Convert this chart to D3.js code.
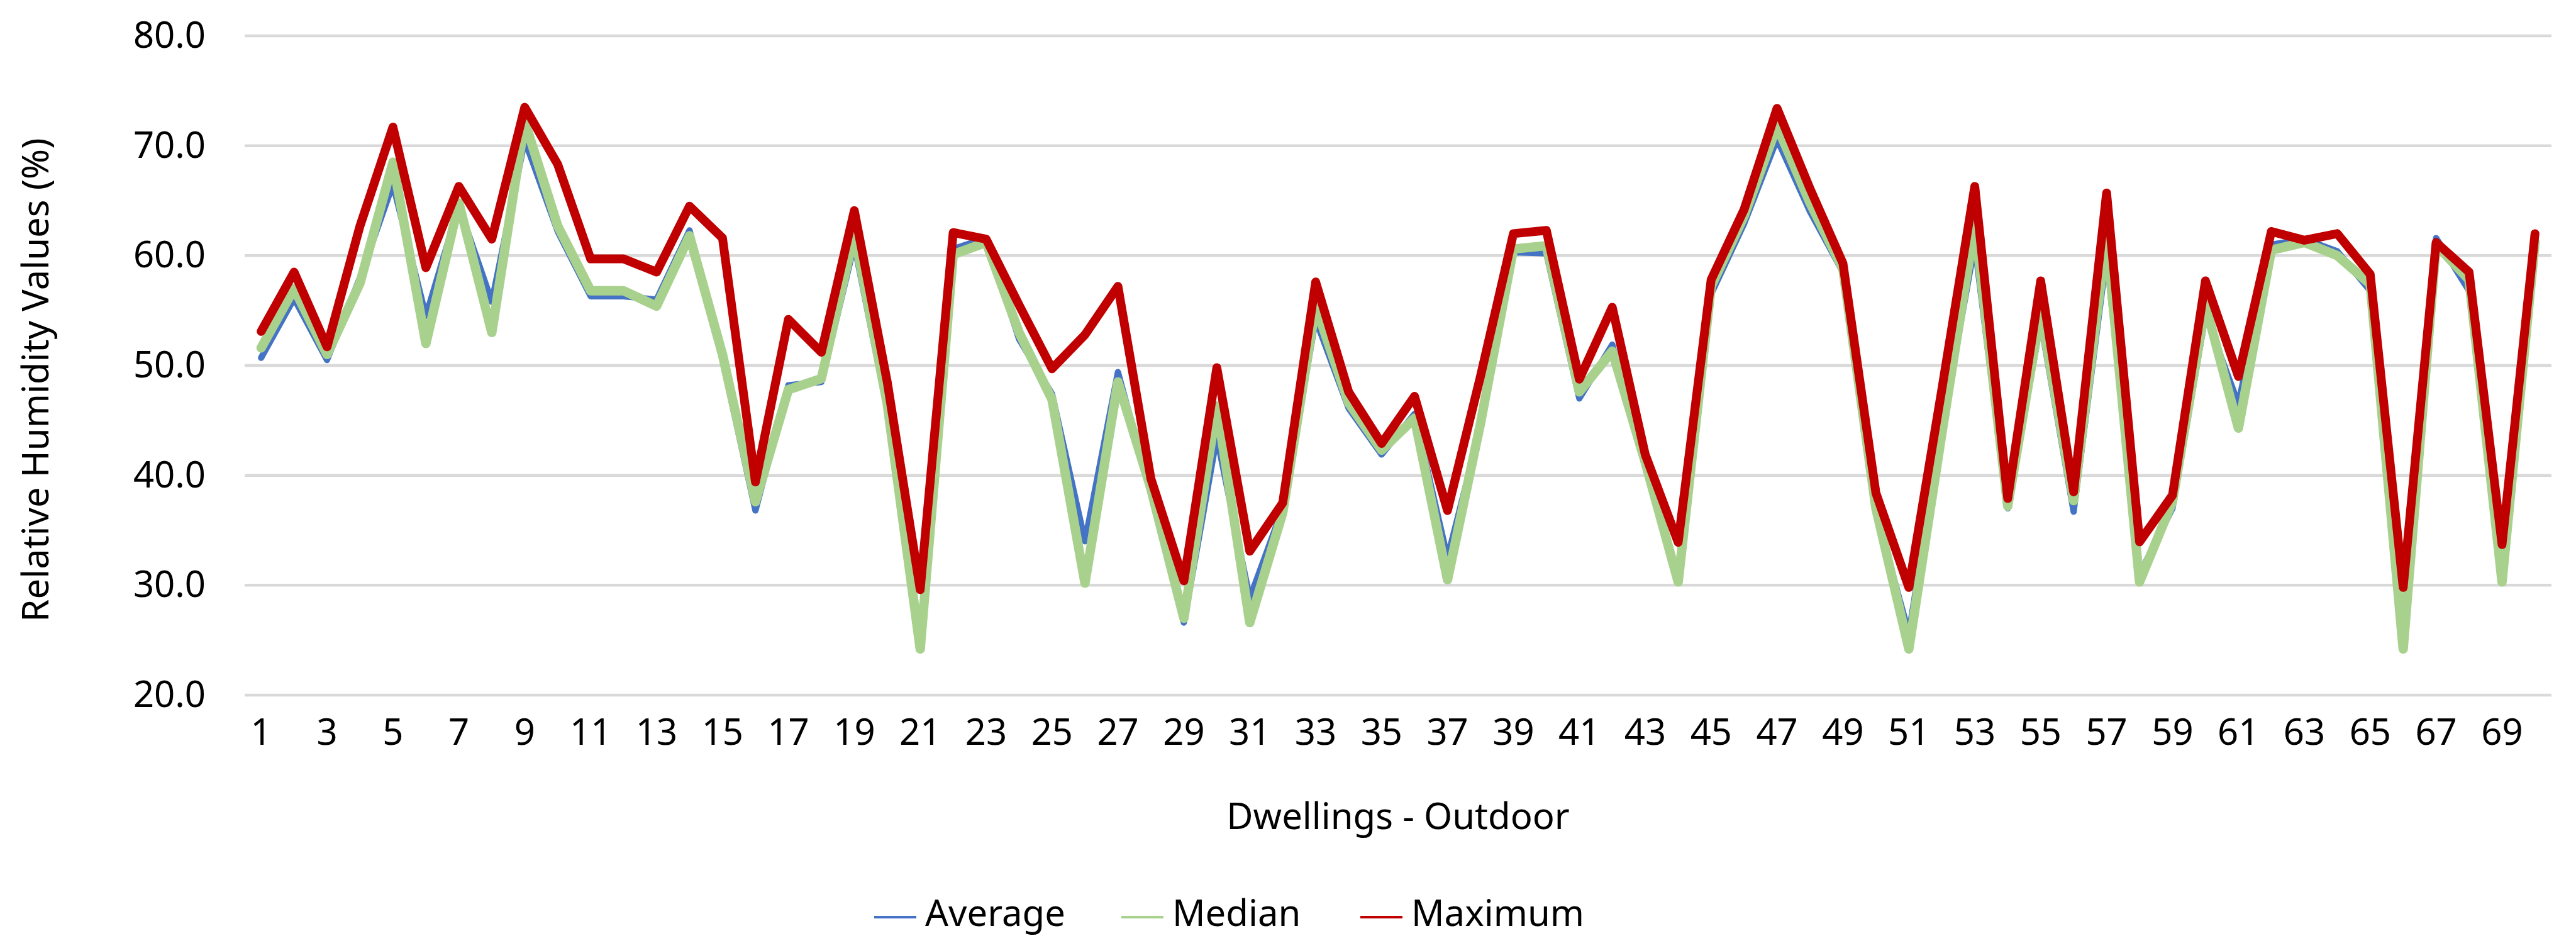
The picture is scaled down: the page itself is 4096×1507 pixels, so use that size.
<!DOCTYPE html>
<html>
<head>
<meta charset="utf-8">
<script src="https://cdn.jsdelivr.net/npm/d3@7"></script>
<style>
  html, body { margin: 0; padding: 0; background: #fff; }
  svg { display: block; }
  text { font-family: "Noto Sans", "Open Sans", sans-serif; fill: #000; }
</style>
</head>
<body>
<svg id="chart" width="4096" height="1507"></svg>
<script>
const dwellings = d3.range(1, 71);
const xTickLabels = d3.range(1, 71, 2);
const yTickLabels = [20, 30, 40, 50, 60, 70, 80];

const averageValues = [
  50.7,56.1,50.5,58.0,66.5,54.5,64.5,55.8,70.5,62.2,
  56.3,56.3,56.0,62.3,50.5,36.8,48.2,48.5,61.0,46.0,
  24.5,60.6,61.6,52.4,47.4,34.0,49.4,38.3,26.6,43.5,
  28.8,37.0,54.2,46.1,41.9,45.6,32.5,44.3,60.3,60.2,
  47.0,51.9,40.8,30.5,56.5,62.9,70.6,64.0,58.5,36.6,
  25.6,44.3,61.0,37.0,54.0,36.7,60.0,31.0,37.0,54.6,
  46.5,61.0,61.5,60.4,56.8,24.4,61.6,56.8,30.3,60.9
];
const medianValues = [
  51.6,57.0,51.0,57.5,68.5,52.0,64.8,53.0,72.2,62.7,
  56.8,56.8,55.4,61.8,51.0,37.6,47.8,48.8,62.0,46.5,
  24.2,60.1,61.2,53.0,46.9,30.2,48.5,38.8,27.0,46.3,
  26.6,36.6,55.4,46.6,42.3,45.2,30.5,44.7,60.6,60.9,
  47.6,51.3,41.2,30.3,57.2,63.6,71.8,64.8,58.8,37.0,
  24.2,43.8,62.8,37.2,54.9,37.7,61.7,30.3,37.6,55.5,
  44.3,60.5,61.2,60.0,57.4,24.2,61.0,57.8,30.3,61.2
];
const maximumValues = [
  53.1,58.5,51.7,62.7,71.7,58.9,66.3,61.5,73.5,68.3,
  59.7,59.7,58.5,64.5,61.6,39.4,54.2,51.2,64.1,48.5,
  29.6,62.1,61.5,55.5,49.7,52.8,57.2,39.7,30.4,49.8,
  33.1,37.5,57.6,47.6,42.9,47.2,36.8,49.0,62.0,62.3,
  48.75,55.3,41.9,33.9,57.8,64.2,73.4,66.1,59.3,38.4,
  29.8,47.8,66.3,37.9,57.7,38.5,65.7,33.95,38.2,57.7,
  49.0,62.2,61.4,62.0,58.3,29.8,61.2,58.5,33.7,62.0
];
const seriesNames = ["Average", "Median", "Maximum"];
const seriesColors = ["#4472C4", "#A9D18E", "#C00000"];
const seriesWidths = [10, 15, 14];

const svg = d3.select("#chart");
svg.append("rect").attr("width", 4096).attr("height", 1507).attr("fill", "#fff");

const plot = { left: 389, right: 4057, top: 57, bottom: 1105 };
const x = d3.scaleBand().domain(dwellings).range([plot.left, plot.right]);
const y = d3.scaleLinear().domain([20, 80]).range([plot.bottom, plot.top]);
const cx = d => x(d) + x.bandwidth() / 2;
const fontSize = "58px";

// gridlines
svg.append("g")
  .selectAll("line").data(yTickLabels).join("line")
  .attr("x1", plot.left).attr("x2", plot.right)
  .attr("y1", d => y(d)).attr("y2", d => y(d))
  .attr("stroke", "#D9D9D9").attr("stroke-width", 4.5);

// y axis
const yAxis = svg.append("g")
  .attr("transform", `translate(${plot.left},0)`)
  .call(d3.axisLeft(y).tickValues(yTickLabels).tickFormat(d3.format(".1f")).tickSize(0).tickPadding(62));
yAxis.select(".domain").remove();
yAxis.selectAll("text").style("font-family", "'Noto Sans', sans-serif").style("font-size", fontSize).attr("fill", "#000");

// x axis
const xAxis = svg.append("g")
  .attr("transform", `translate(0,${plot.bottom})`)
  .call(d3.axisBottom(x).tickValues(xTickLabels).tickSize(0).tickPadding(38));
xAxis.select(".domain").remove();
xAxis.selectAll("text").style("font-family", "'Noto Sans', sans-serif").style("font-size", fontSize).attr("fill", "#000");

// lines
const seriesData = [averageValues, medianValues, maximumValues];
const line = d3.line().x((d, i) => cx(dwellings[i])).y(d => y(d));
seriesData.forEach((vals, k) => {
  svg.append("path")
    .datum(vals)
    .attr("d", line)
    .attr("fill", "none")
    .attr("stroke", seriesColors[k])
    .attr("stroke-width", seriesWidths[k])
    .attr("stroke-linejoin", "round")
    .attr("stroke-linecap", "round");
});

// axis titles
svg.append("text")
  .attr("transform", "translate(77,604) rotate(-90)")
  .attr("text-anchor", "middle")
  .style("font-size", fontSize)
  .text("Relative Humidity Values (%)");

svg.append("text")
  .attr("x", (plot.left + plot.right) / 2).attr("y", 1318)
  .attr("text-anchor", "middle")
  .style("font-size", fontSize)
  .text("Dwellings - Outdoor");

// legend
const legendX = [1390, 1783, 2163];
const legend = svg.append("g");
seriesNames.forEach((name, k) => {
  const g = legend.append("g").attr("transform", `translate(${legendX[k]},1458)`);
  g.append("line").attr("x1", 0).attr("x2", 67).attr("y1", 0).attr("y2", 0)
    .attr("stroke", seriesColors[k]).attr("stroke-width", 4);
  g.append("text").attr("x", 81).attr("y", 14).style("font-size", fontSize).text(name);
});
</script>
</body>
</html>
